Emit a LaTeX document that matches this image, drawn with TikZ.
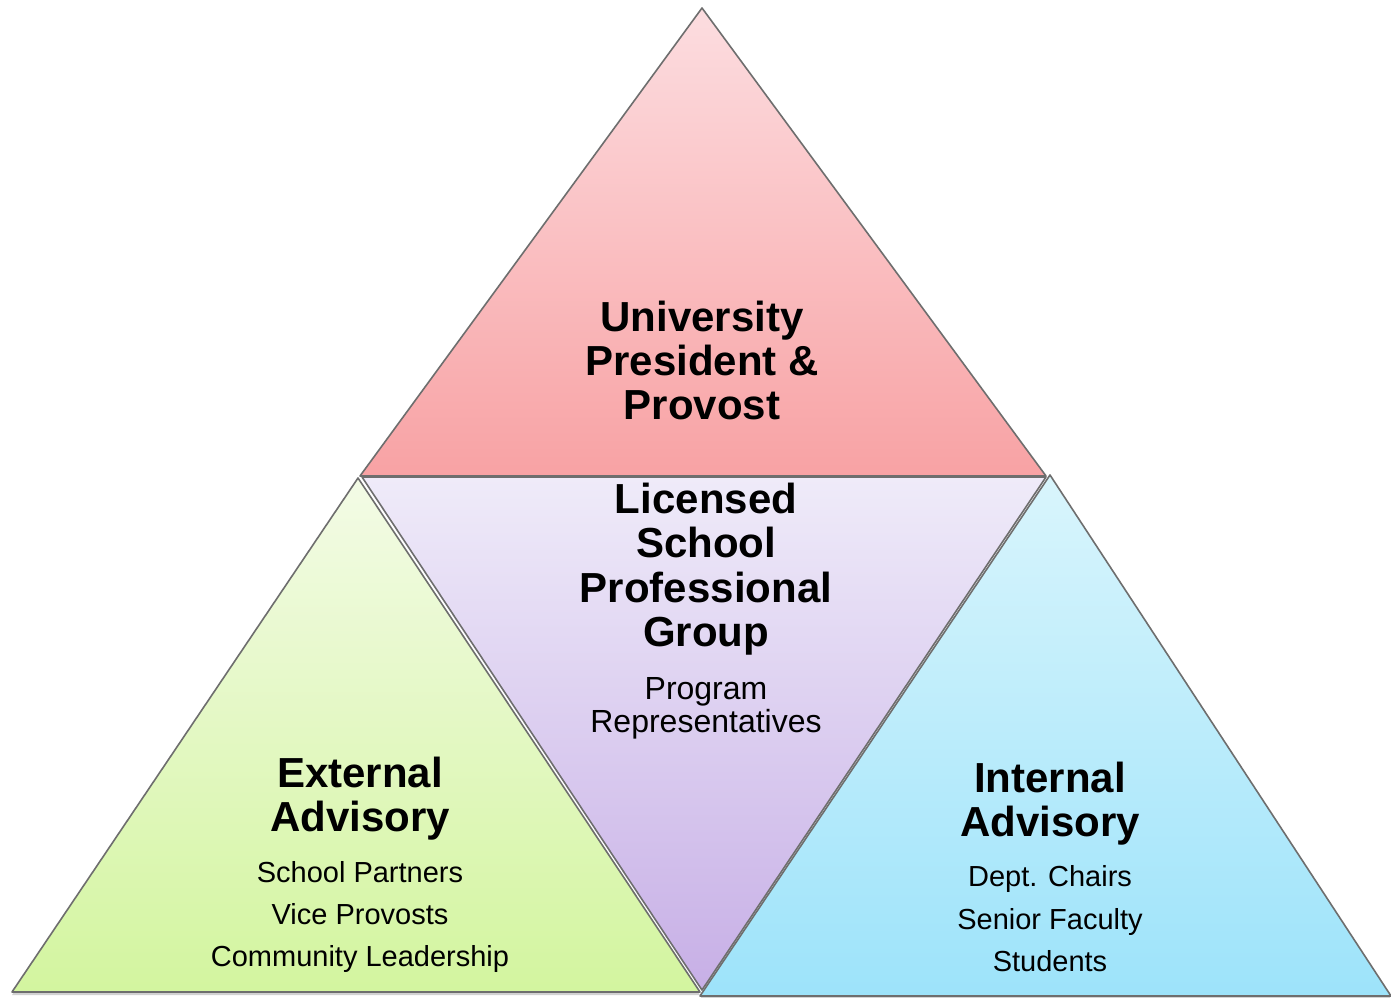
\documentclass[tikz,border=0pt]{standalone}
\usepackage{fontspec}
\setmainfont{Liberation Sans}
\usetikzlibrary{shadows}
\definecolor{edgegray}{HTML}{6E6E6E}
\definecolor{redtop}{HTML}{FCDDE0}
\definecolor{redbot}{HTML}{F8A2A4}
\definecolor{viotop}{HTML}{EFEBF9}
\definecolor{viobot}{HTML}{C7AFE6}
\definecolor{grntop}{HTML}{F3FBE6}
\definecolor{grnbot}{HTML}{D3F59F}
\definecolor{blutop}{HTML}{D9F5FC}
\definecolor{blubot}{HTML}{9DE3FA}
\tikzset{
  tri/.style={draw=edgegray, line width=1.6pt, line join=round},
  shadowed/.style={drop shadow={opacity=0.35, shadow xshift=0pt, shadow yshift=-3pt, fill=gray}},
  head/.style={font=\fontsize{42}{44}\selectfont\bfseries, anchor=base, inner sep=0pt},
  item/.style={font=\fontsize{29}{33}\selectfont, anchor=base, inner sep=0pt},
  bigitem/.style={font=\fontsize{32}{33}\selectfont, anchor=base, inner sep=0pt}
}
\begin{document}
\begin{tikzpicture}[x=1pt, y=-1pt]
\useasboundingbox (0,0) rectangle (1391,997);
\fill[white] (0,0) rectangle (1391,997);

% apex triangle
\shade[tri, top color=redtop, bottom color=redbot]
  (702,8) -- (1046,476) -- (360,476) -- cycle;
% inverted centre triangle
\shade[tri, top color=viotop, bottom color=viobot]
  (362,477) -- (1046,477) -- (702,990) -- cycle;
% lower left triangle
\shade[tri, shadowed, top color=grntop, bottom color=grnbot]
  (358,478) -- (700,992) -- (12,992) -- cycle;
% lower right triangle
\shade[tri, shadowed, top color=blutop, bottom color=blubot]
  (1050,475) -- (1391,996) -- (700,996) -- cycle;

% apex labels
\node[head] (u1) at (702,331) {University};
\node[head] (u2) at (702,375) {President \&};
\node[head] (u3) at (702,419) {Provost};

% centre labels
\node[head] (c1) at (706,513) {Licensed};
\node[head] (c2) at (706,557) {School};
\node[head] (c3) at (706,602) {Professional};
\node[head] (c4) at (706,646) {Group};
\node[bigitem] (c5) at (706,699) {Program};
\node[bigitem] (c6) at (706,732) {Representatives};

% left labels
\node[head] (e1) at (360,787) {External};
\node[head] (e2) at (360,831) {Advisory};
\node[item] (e3) at (360,882) {School Partners};
\node[item] (e4) at (360,924) {Vice Provosts};
\node[item] (e5) at (360,966) {Community Leadership};

% right labels
\node[head] (i1) at (1050,792) {Internal};
\node[head] (i2) at (1050,836) {Advisory};
\node[item] (i3) at (1050,886) {Dept. Chairs};
\node[item] (i4) at (1050,929) {Senior Faculty};
\node[item] (i5) at (1050,971) {Students};
\end{tikzpicture}
\end{document}
